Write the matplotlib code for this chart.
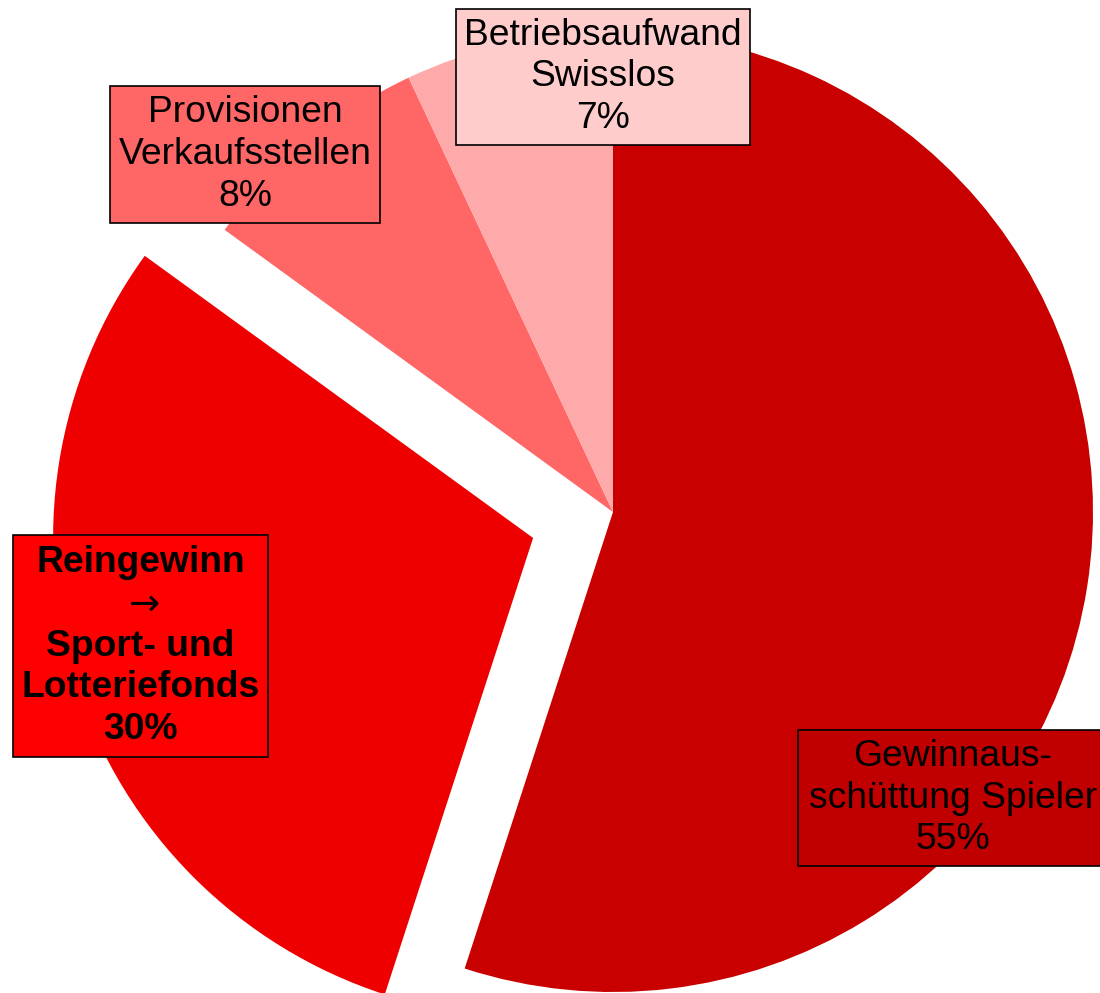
import matplotlib.pyplot as plt
from matplotlib.patches import Rectangle

plt.rcParams['font.family'] = ['Liberation Sans', 'DejaVu Sans']
plt.rcParams['mathtext.fontset'] = 'dejavusans'

labels = ['Gewinnaus-\nschüttung Spieler', 'Reingewinn\n$\\rightarrow$\nSport- und\nLotteriefonds',
          'Provisionen\nVerkaufsstellen', 'Betriebsaufwand\nSwisslos']
shares = [55, 30, 8, 7]
wedge_colors = ['#C80000', '#EE0000', '#FF6666', '#FFAAAA']
box_colors = ['#C00000', '#FF0000', '#FF6666', '#FFCCCC']
bold = [False, True, False, False]
pulled = [0, 0.175, 0, 0]

# label boxes in pixel units (left, top, width, height)
boxes = [(798, 730, 310, 136), (13, 535, 255, 222), (110, 86, 270, 137), (456, 9, 294, 136)]

W, H = 1100, 993
R = 480
fig = plt.figure(figsize=(W / 100, H / 100), dpi=100)
ax = fig.add_axes([0, 0, 1, 1])

ax.pie(shares, colors=wedge_colors, startangle=90, counterclock=False,
       explode=[p * R for p in pulled], center=(613, H - 512), radius=R, frame=True,
       wedgeprops=dict(linewidth=0))
ax.set_xlim(0, W)
ax.set_ylim(0, H)
ax.set_aspect('equal')
ax.axis('off')

for lab, s, (l, t, w, h), c, b in zip(labels, shares, boxes, box_colors, bold):
    ax.add_patch(Rectangle((l, H - t - h), w, h, facecolor=c, edgecolor='black',
                           linewidth=1.2, zorder=3))
    ax.text(l + w / 2, H - t - h / 2, f'{lab}\n{s}%', ha='center', va='center',
            fontsize=26.8, fontweight='bold' if b else 'normal', linespacing=1.25,
            zorder=4)

fig.savefig('out.png', dpi=100)
